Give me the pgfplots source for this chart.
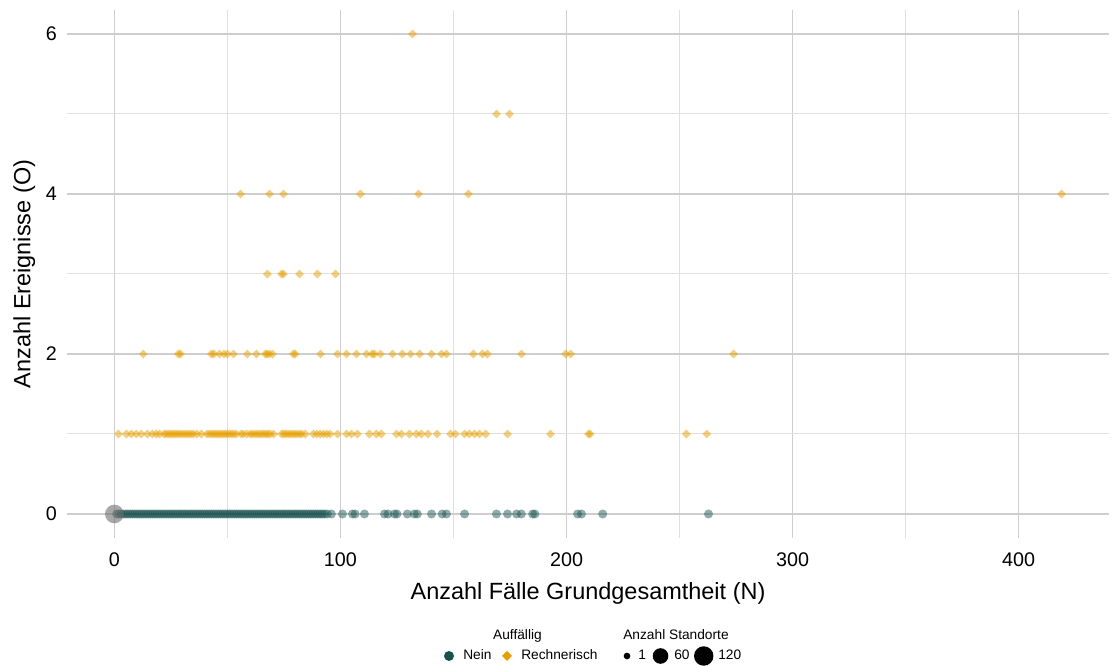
\documentclass[border=0pt]{standalone}
\usepackage{fontspec}
\setmainfont{Liberation Sans}
\usepackage{pgfplots}
\pgfplotsset{compat=1.18}
\definecolor{teal1}{RGB}{24,83,80}
\definecolor{orng}{RGB}{230,159,0}
\definecolor{majgrid}{RGB}{206,206,206}
\definecolor{mingrid}{RGB}{224,224,224}
\definecolor{bigg}{RGB}{110,110,110}
\begin{document}
\begin{tikzpicture}
\path[use as bounding box] (0,0) rectangle (835.5pt,499.5pt);
\begin{axis}[
 at={(50.25pt,96pt)}, anchor=south west, scale only axis,
 width=781.5pt, height=396pt,
 xmin=-20.95, xmax=439.95, ymin=-0.3, ymax=6.3,
 axis line style={draw=none},
 xtick={0,100,200,300,400}, ytick={0,2,4,6},
 minor xtick={50,150,250,350}, minor ytick={1,3,5},
 grid=both,
 major grid style={majgrid, line width=1.1pt},
 minor grid style={mingrid, line width=0.75pt},
 major tick length=0pt, minor tick length=0pt,
 /pgf/number format/assume math mode=true,
 ticklabel style={font=\fontsize{14.8}{16}\selectfont},
 xticklabel style={anchor=north, inner sep=0pt, yshift=-10.5pt},
 yticklabel style={anchor=east, inner sep=0pt, xshift=-7.5pt},
 xlabel={Anzahl Fälle Grundgesamtheit (N)},
 ylabel={Anzahl Ereignisse (O)},
 xlabel style={at={(axis description cs:0.5,-0.11616)}, anchor=base, inner sep=0pt, font=\fontsize{17.6}{20}\selectfont},
 ylabel style={at={(axis description cs:-0.03519,0.5)}, anchor=base, rotate=0, inner sep=0pt, font=\fontsize{17.6}{20}\selectfont},
 clip=false,
]
% Nein (teal), O = 0
\addplot[only marks, mark=*, mark size=3.4pt, mark options={fill=teal1, draw opacity=0, fill opacity=0.48, line width=0pt}] coordinates {
(1,0)(2,0)(3,0)(4,0)(5,0)(6,0)(7,0)(8,0)(9,0)(10,0)(11,0)(12,0)(13,0)(14,0)(15,0)(16,0)(17,0)(18,0)(19,0)(20,0)
(21,0)(22,0)(23,0)(24,0)(25,0)(26,0)(27,0)(28,0)(29,0)(30,0)(31,0)(32,0)(33,0)(34,0)(35,0)(36,0)(37,0)(38,0)(39,0)(40,0)
(41,0)(42,0)(43,0)(44,0)(45,0)(46,0)(47,0)(48,0)(49,0)(50,0)(51,0)(52,0)(53,0)(54,0)(55,0)(56,0)(57,0)(58,0)(59,0)(60,0)
(61,0)(62,0)(63,0)(64,0)(65,0)(66,0)(67,0)(68,0)(69,0)(70,0)(71,0)(72,0)(73,0)(74,0)(75,0)(76,0)(77,0)(78,0)(79,0)(80,0)
(81,0)(82,0)(83,0)(84,0)(85,0)(86,0)(87,0)(88,0)(89,0)(90,0)(91,0)(92,0)(93,0)
(94.2,0)(96,0)(100.9,0)(105.3,0)(106.5,0)(110.6,0)(119.5,0)(121,0)(123.9,0)(125,0)(129.6,0)(132.7,0)(134,0)
(140.3,0)(145,0)(146.9,0)(154.9,0)(169,0)(173.9,0)(177.9,0)(180,0)(185,0)(186,0)(204.9,0)(206.6,0)(216,0)(262.8,0)
};
% grosser Punkt bei 0
\addplot[only marks, mark=*, mark size=7pt, mark options={fill=bigg, draw opacity=0, fill opacity=0.6, line width=0pt}] coordinates {(0,0)};
% Rechnerisch (orange)
\addplot[only marks, mark=square*, mark size=2.35pt, mark options={rotate=45, fill=orng, draw opacity=0, fill opacity=0.5, line width=0pt}] coordinates {
(1.8,1)(5.3,1)(7.5,1)(9.7,1)(11.9,1)(14.6,1)(16.8,1)(18.6,1)(20,1)(22,1)(23,1)(24,1)(25,1)(26,1)(27,1)(28,1)(29,1)(30,1)
(31,1)(32,1)(33,1)(34,1)(35,1)(36.5,1)(38.5,1)(41,1)(42,1)(43,1)(44,1)(45,1)(46,1)(47,1)(48,1)(49,1)(50,1)(51,1)(52,1)
(53,1)(54,1)(56,1)(57,1)(58.5,1)(60,1)(61,1)(62,1)(63,1)(64,1)(65,1)(66,1)(67,1)(68,1)(69,1)(70.5,1)(74,1)(75,1)(76,1)
(77,1)(78,1)(79,1)(80,1)(81,1)(82,1)(83,1)(84.5,1)(88,1)(89.5,1)(91,1)(92.5,1)(94,1)(95.5,1)
(98.7,1)(102.7,1)(104.9,1)(107.5,1)(112.8,1)(115.9,1)(118.1,1)(124.8,1)(127,1)(130.5,1)(133.6,1)(135.8,1)(138.7,1)
(142.7,1)(148.7,1)(150.9,1)(154.9,1)(157,1)(159.3,1)(161.5,1)(164.2,1)(173.9,1)(192.9,1)(209.7,1)(210.5,1)(253,1)(262,1)
(12.8,2)(28.3,2)(29.2,2)(42.9,2)(44,2)(46.5,2)(48.5,2)(50,2)(52.7,2)(58.8,2)(62.8,2)(66.8,2)(67.5,2)(68.5,2)(69.9,2)
(79.2,2)(80,2)(91.2,2)(98.7,2)(102.7,2)(107.1,2)(111.5,2)(114,2)(115,2)(117.7,2)(123,2)(127.4,2)(131,2)(135,2)
(140.3,2)(144.7,2)(146.9,2)(158.8,2)(162.8,2)(165,2)(180.1,2)(199.6,2)(201.8,2)(273.9,2)
(67.7,3)(73.9,3)(74.8,3)(81.9,3)(89.8,3)(97.8,3)
(55.8,4)(68.6,4)(74.8,4)(108.8,4)(134.5,4)(156.6,4)(419,4)
(169,5)(174.8,5)
(131.9,6)
};
\end{axis}
% legend
\node[anchor=base, inner sep=0pt, font=\fontsize{10.3}{12}\selectfont] at (388.1pt,19.5pt) {Auffällig};
\node[anchor=base, inner sep=0pt, font=\fontsize{10.3}{12}\selectfont] at (507pt,19.5pt) {Anzahl Standorte};
\fill[teal1] (336.75pt,7.5pt) circle (3.75pt);
\node[anchor=base west, inner sep=0pt, font=\fontsize{10.3}{12}\selectfont] at (347.25pt,4.5pt) {Nein};
\fill[orng] (380.25pt,11.25pt) -- (384pt,7.5pt) -- (380.25pt,3.75pt) -- (376.5pt,7.5pt) -- cycle;
\node[anchor=base west, inner sep=0pt, font=\fontsize{10.3}{12}\selectfont] at (390.75pt,4.5pt) {Rechnerisch};
\fill[black] (470.25pt,7.5pt) circle (2.5pt);
\node[anchor=base west, inner sep=0pt, font=\fontsize{10.3}{12}\selectfont] at (478.5pt,4.5pt) {1};
\fill[black] (495.4pt,7.5pt) circle (5.85pt);
\node[anchor=base west, inner sep=0pt, font=\fontsize{10.3}{12}\selectfont] at (505.5pt,4.5pt) {60};
\fill[black] (527.8pt,7.5pt) circle (7.3pt);
\node[anchor=base west, inner sep=0pt, font=\fontsize{10.3}{12}\selectfont] at (538.5pt,4.5pt) {120};
\end{tikzpicture}
\end{document}
